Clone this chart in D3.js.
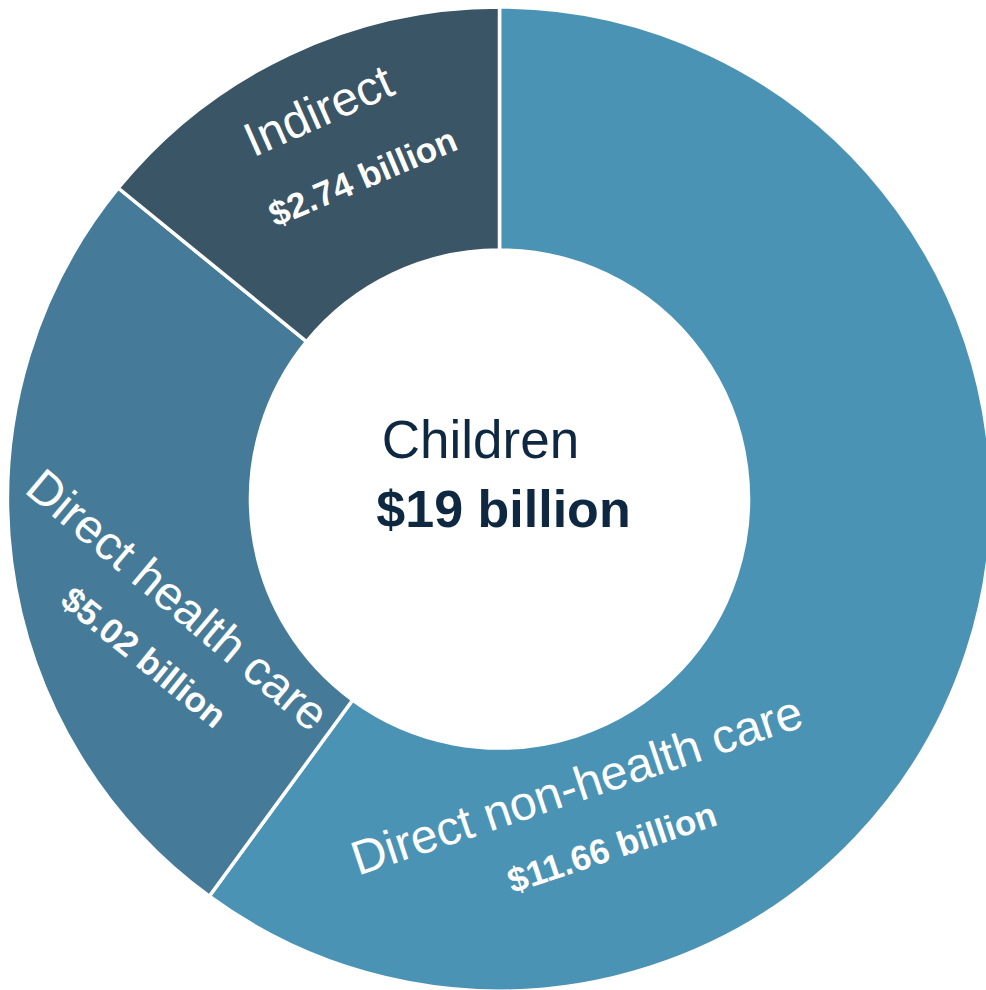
<!DOCTYPE html>
<html>
<head>
<meta charset="utf-8">
<script src="https://cdn.jsdelivr.net/npm/d3@7"></script>
<style>
  html, body { margin: 0; padding: 0; background: #ffffff; }
  svg { display: block; }
  text { font-family: "Liberation Sans", Arial, sans-serif; }
</style>
</head>
<body>
<svg id="chart" width="986" height="990"></svg>
<script>
// Cost components for children (US$ billion)
const categories = ["Direct non-health care", "Direct health care", "Indirect"];
const values = [11.66, 5.02, 2.74];
const valueLabels = ["$11.66 billion", "$5.02 billion", "$2.74 billion"];
const centerTitle = "Children";
const centerTotal = "$19 billion";

// Styling
const colors = ["#4b93b4", "#457b98", "#3a5565"];
const textDark = "#0e2841";

// Label placement inside each slice: position along the slice (fraction of its sweep),
// radius from the centre, and text rotation in degrees.
const nameLayout = [
  { t: 0.763, r: 296, rotate: -18.5 },
  { t: 0.392, r: 337, rotate: 40 },
  { t: 0.508, r: 429, rotate: -24 }
];
const valueLayout = [
  { t: 0.750, r: 366, rotate: -18.5 },
  { t: 0.321, r: 389, rotate: 39 },
  { t: 0.547, r: 350, rotate: -23 }
];

const width = 986, height = 990;
const cx = 499.5, cy = 499;
const outerR = 492, innerR = 249;

const svg = d3.select("#chart");
const g = svg.append("g").attr("transform", `translate(${cx},${cy})`);

const data = categories.map((c, i) => ({ name: c, value: values[i], label: valueLabels[i], i }));

const pie = d3.pie().value(d => d.value).sort(null);
const arcs = pie(data);

const arc = d3.arc().innerRadius(innerR).outerRadius(outerR);

g.selectAll("path.slice")
  .data(arcs)
  .join("path")
  .attr("class", "slice")
  .attr("d", arc)
  .attr("fill", d => colors[d.data.i])
  .attr("stroke", "#ffffff")
  .attr("stroke-width", 3.5)
  .attr("stroke-linejoin", "miter");

// point at a fraction of the slice's sweep and a given radius
function placeAt(d, lay) {
  const a = d.startAngle + (d.endAngle - d.startAngle) * lay.t;
  return d3.arc().innerRadius(lay.r).outerRadius(lay.r).startAngle(a).endAngle(a).centroid();
}

g.selectAll("text.name")
  .data(arcs)
  .join("text")
  .attr("class", "name")
  .attr("transform", d => {
    const lay = nameLayout[d.data.i];
    const [x, y] = placeAt(d, lay);
    return `translate(${x},${y}) rotate(${lay.rotate})`;
  })
  .attr("text-anchor", "middle")
  .attr("dy", "0.35em")
  .attr("fill", "#ffffff")
  .attr("font-size", 48)
  .text(d => d.data.name);

g.selectAll("text.value")
  .data(arcs)
  .join("text")
  .attr("class", "value")
  .attr("transform", d => {
    const lay = valueLayout[d.data.i];
    const [x, y] = placeAt(d, lay);
    return `translate(${x},${y}) rotate(${lay.rotate})`;
  })
  .attr("text-anchor", "middle")
  .attr("dy", "0.35em")
  .attr("fill", "#ffffff")
  .attr("font-size", 35)
  .attr("font-weight", "bold")
  .text(d => d.data.label);

// Centre title and total
g.append("text")
  .attr("x", -19)
  .attr("y", -41)
  .attr("text-anchor", "middle")
  .attr("fill", textDark)
  .attr("font-size", 53)
  .text(centerTitle);

g.append("text")
  .attr("x", 4)
  .attr("y", 28)
  .attr("text-anchor", "middle")
  .attr("fill", textDark)
  .attr("font-size", 52)
  .attr("font-weight", "bold")
  .text(centerTotal);
</script>
</body>
</html>
